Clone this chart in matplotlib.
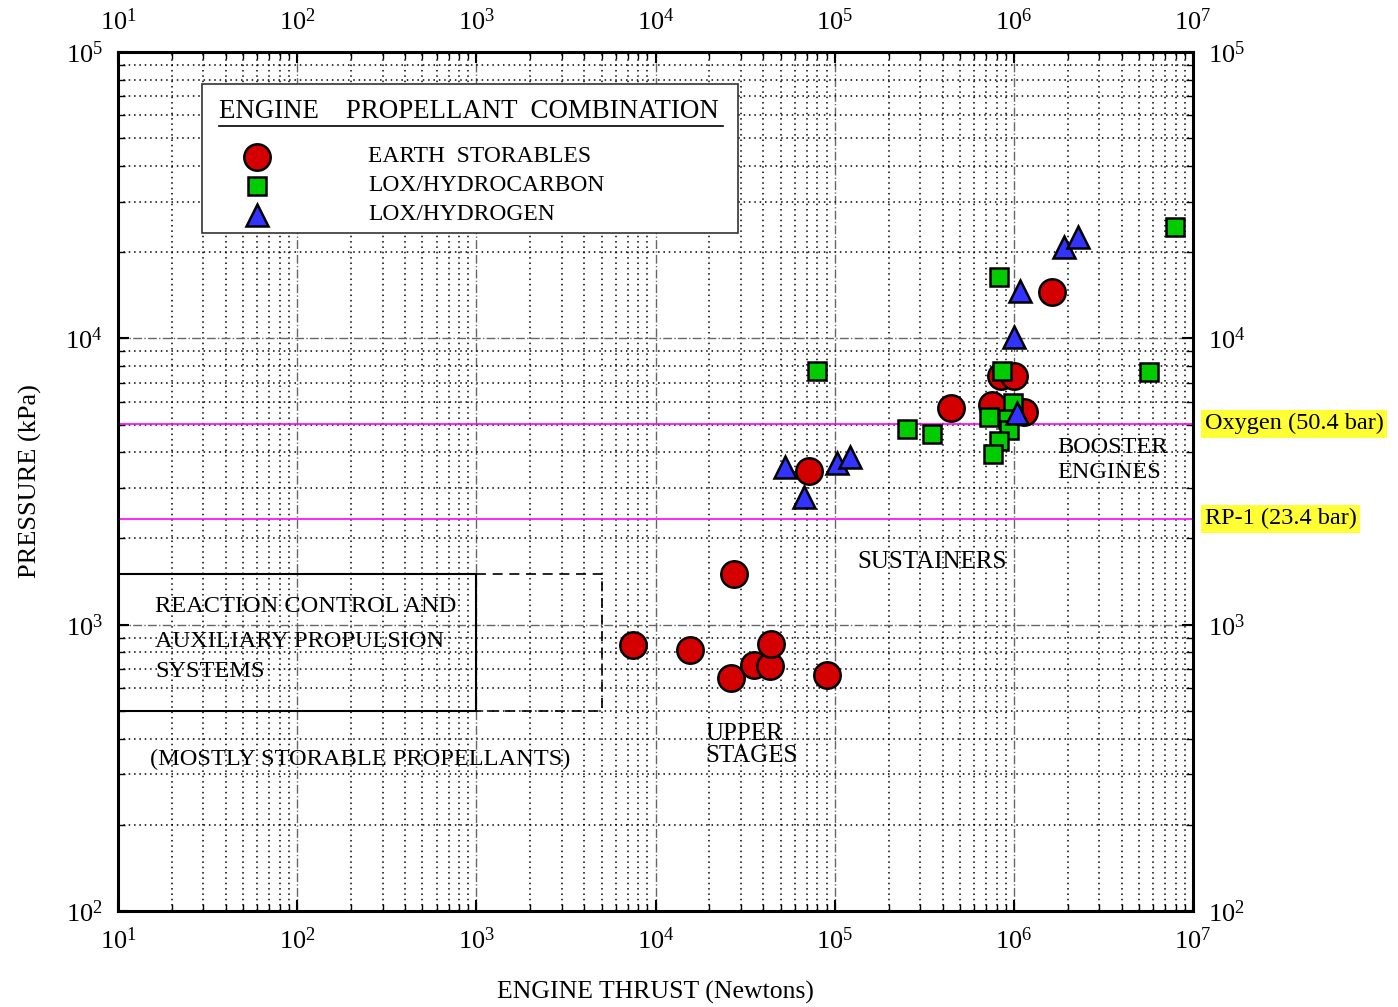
import matplotlib.pyplot as plt
from matplotlib.patches import Rectangle
from matplotlib.ticker import FixedLocator, NullFormatter
from matplotlib.lines import Line2D

plt.rcParams["font.family"] = ["Liberation Serif", "DejaVu Serif"]
plt.rcParams["mathtext.fontset"] = "custom"
plt.rcParams["mathtext.rm"] = "Liberation Serif"
plt.rcParams["mathtext.it"] = "Liberation Serif:italic"
plt.rcParams["mathtext.bf"] = "Liberation Serif:bold"

# engine data: thrust (N), chamber pressure (kPa)
storable_thrust = [7480, 15600, 26400, 27400, 35500, 43600, 44100, 90600,
                   71900, 446000, 755000, 848000, 1.0e6, 1.14e6, 1.63e6]
storable_pc = [849, 817, 652, 1503, 722, 717, 855, 667,
               3440, 5710, 5850, 7380, 7380, 5530, 14500]

hydrocarbon_thrust = [79600, 253000, 349000, 826000, 859000, 988000, 727000,
                      930000, 940000, 830000, 760000, 5.67e6, 7.93e6]
hydrocarbon_pc = [7690, 4820, 4630, 16400, 7690, 5950, 5330,
                  5220, 4780, 4380, 3940, 7640, 24500]

hydrogen_thrust = [52800, 67400, 103000, 122000, 1.0e6, 1.08e6, 1.9e6, 2.28e6, 1.04e6]
hydrogen_pc = [3560, 2790, 3670, 3860, 10100, 14600, 20800, 22600, 5480]

# propellant vapour pressure limits (kPa)
limit_pc = [5040, 2340]
limit_labels = ["Oxygen (50.4 bar)", "RP-1 (23.4 bar)"]

# reaction control / auxiliary propulsion region
rcs_thrust = [10, 1000, 5000]
rcs_pc = [500, 1500]

series_labels = ["EARTH  STORABLES", "LOX/HYDROCARBON", "LOX/HYDROGEN"]

x_decades = range(1, 8)
y_decades = range(2, 6)

fig = plt.figure(figsize=(13.98, 10.07), dpi=100)
ax = fig.add_axes([0.0844, 0.0953, 0.769, 0.8531])
ax.set_xscale("log")
ax.set_yscale("log")
ax.set_xlim(1e1, 1e7)
ax.set_ylim(1e2, 1e5)

ax.xaxis.set_major_locator(FixedLocator([10.0 ** d for d in x_decades]))
ax.yaxis.set_major_locator(FixedLocator([10.0 ** d for d in y_decades]))
ax.xaxis.set_minor_locator(FixedLocator([m * 10.0 ** d for d in list(x_decades)[:-1] for m in range(2, 10)]))
ax.yaxis.set_minor_locator(FixedLocator([m * 10.0 ** d for d in list(y_decades)[:-1] for m in range(2, 10)]))
ax.xaxis.set_minor_formatter(NullFormatter())
ax.yaxis.set_minor_formatter(NullFormatter())

ax.set_axisbelow(True)
ax.grid(True, which="major", linestyle="-.", color="#666666", linewidth=1.0)
ax.grid(True, which="minor", linestyle=(0, (1, 2.5)), color="black", linewidth=1.1)

for s in ax.spines.values():
    s.set_linewidth(2.2)

ax.tick_params(which="both", direction="in", top=True, right=True,
               labeltop=True, labelright=True, labelsize=19)
ax.tick_params(which="major", length=8, width=1.5)
ax.tick_params(which="minor", length=5, width=1.0)
ax.tick_params(axis="x", which="major", pad=12)
ax.tick_params(axis="y", which="major", pad=11)

# limit lines and labels
ytrans = ax.get_yaxis_transform()
for pc, lab in zip(limit_pc, limit_labels):
    ax.axhline(pc, color="magenta", linewidth=1.2, zorder=2)
    ax.text(1.011, pc, lab, transform=ytrans, fontsize=17.5, va="center", ha="left",
            bbox=dict(facecolor="#ffff33", edgecolor="none", pad=2.5))

# RCS box
ax.add_patch(Rectangle((rcs_thrust[0], rcs_pc[0]), rcs_thrust[1] - rcs_thrust[0],
                       rcs_pc[1] - rcs_pc[0], fill=False, edgecolor="black",
                       linewidth=1.5, zorder=3))
ax.plot([rcs_thrust[1], rcs_thrust[2], rcs_thrust[2], rcs_thrust[1]],
        [rcs_pc[1], rcs_pc[1], rcs_pc[0], rcs_pc[0]],
        color="black", linestyle=(0, (6, 4)), linewidth=1.2, zorder=3)

# data points
ax.plot(storable_thrust, storable_pc, linestyle="none", marker="o", markersize=19,
        markerfacecolor="#d40000", markeredgecolor="black", markeredgewidth=1.8, zorder=4)
ax.plot(hydrocarbon_thrust, hydrocarbon_pc, linestyle="none", marker="s", markersize=13.5,
        markerfacecolor="#00cc00", markeredgecolor="black", markeredgewidth=1.8, zorder=5)
ax.plot(hydrogen_thrust, hydrogen_pc, linestyle="none", marker="^", markersize=16.5,
        markerfacecolor="#3333ff", markeredgecolor="black", markeredgewidth=1.8, zorder=6)

# region annotations
fs = 17.6
ax.text(16.1, 1161, "REACTION CONTROL AND", fontsize=fs, va="center", zorder=7)
ax.text(16.1, 870, "AUXILIARY PROPULSION", fontsize=fs, va="center", zorder=7)
ax.text(16.1, 689, "SYSTEMS", fontsize=fs, va="center", zorder=7)
ax.text(15.1, 337, "(MOSTLY STORABLE PROPELLANTS)", fontsize=fs, va="center", zorder=7)
ax.text(18900, 380, "UPPER\nSTAGES", fontsize=18, va="center", linespacing=1.05, zorder=7)
ax.text(133000, 1656, "SUSTAINERS", fontsize=18, va="center", zorder=7)
ax.text(1.74e6, 3760, "BOOSTER\nENGINES", fontsize=17.5, va="center", linespacing=1.2, zorder=7)

# legend box
ax.add_patch(Rectangle((0.0781, 0.789), 0.4986, 0.1735, transform=ax.transAxes,
                       facecolor="white", edgecolor="#333333", linewidth=1.2, zorder=8))
ax.text(0.0939, 0.9305, "ENGINE    PROPELLANT  COMBINATION", transform=ax.transAxes,
        fontsize=19.4, va="center", ha="left", zorder=9)
ax.add_line(Line2D([0.0939, 0.5628], [0.9135, 0.9135], transform=ax.transAxes,
                   color="black", linewidth=1.2, zorder=9))
leg_markers = [("o", 19, "#d40000"), ("s", 13.5, "#00cc00"), ("^", 16.5, "#3333ff")]
leg_y = [0.8783, 0.8445, 0.8107]
for (m, ms, fc), yy, lab in zip(leg_markers, leg_y, series_labels):
    ax.plot([0.1293], [yy], transform=ax.transAxes, marker=m, markersize=ms,
            markerfacecolor=fc, markeredgecolor="black", markeredgewidth=1.8,
            linestyle="none", zorder=10, clip_on=False)
    ax.text(0.2326, yy, lab, transform=ax.transAxes, fontsize=16.9, va="center",
            ha="left", zorder=10)

ax.set_xlabel("ENGINE THRUST (Newtons)", fontsize=18.5, labelpad=19)
ax.set_ylabel("PRESSURE (kPa)", fontsize=19, labelpad=17)

fig.savefig("out.png", dpi=100)
